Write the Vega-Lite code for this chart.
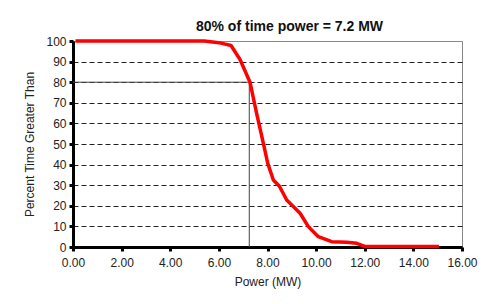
{
  "$schema": "https://vega.github.io/schema/vega-lite/v6.json",
  "width": 389,
  "height": 206,
  "autosize": {"type": "none"},
  "padding": {"left": 73, "top": 41, "right": 35, "bottom": 57},
  "background": "white",
  "title": {
    "text": "80% of time power = 7.2 MW",
    "fontSize": 14,
    "fontWeight": "bold",
    "font": "Liberation Sans",
    "color": "#111",
    "anchor": "middle",
    "dx": 22,
    "offset": 1
  },
  "config": {
    "view": {"stroke": "#888", "strokeWidth": 1},
    "font": "Liberation Sans"
  },
  "datasets": {
    "curve": [
      {"power": 0.1, "pct": 100},
      {"power": 5.4, "pct": 100},
      {"power": 6.0, "pct": 99.2},
      {"power": 6.5, "pct": 97.8},
      {"power": 6.87, "pct": 91},
      {"power": 7.28, "pct": 80},
      {"power": 7.55, "pct": 65},
      {"power": 7.83, "pct": 50.3},
      {"power": 8.01, "pct": 40.6},
      {"power": 8.24, "pct": 32.5},
      {"power": 8.49, "pct": 29.5},
      {"power": 8.79, "pct": 22.8},
      {"power": 9.34, "pct": 16.4},
      {"power": 9.68, "pct": 9.9},
      {"power": 10.09, "pct": 5},
      {"power": 10.64, "pct": 2.6},
      {"power": 11.26, "pct": 2.3},
      {"power": 11.67, "pct": 1.8},
      {"power": 12.0, "pct": 0.3},
      {"power": 15.05, "pct": 0.3}
    ],
    "marker": [
      {"power": 0, "power2": 7.25, "pct": 80, "pct2": 80},
      {"power": 7.25, "power2": 7.25, "pct": 0, "pct2": 80}
    ]
  },
  "encoding": {
    "x": {
      "field": "power",
      "type": "quantitative",
      "scale": {"domain": [0, 16], "nice": false},
      "axis": {
        "title": "Power (MW)",
        "values": [0, 2, 4, 6, 8, 10, 12, 14, 16],
        "format": ".2f",
        "grid": false,
        "labelOverlap": false,
        "labelFlush": false,
        "labelBound": false,
        "domainColor": "#000",
        "domainWidth": 3,
        "tickColor": "#000",
        "tickWidth": 3,
        "tickSize": 4,
        "labelFontSize": 12,
        "labelColor": "#222",
        "labelPadding": 6,
        "titleFontSize": 12,
        "titleFontWeight": "normal",
        "titleColor": "#222",
        "titlePadding": 8
      }
    },
    "y": {
      "field": "pct",
      "type": "quantitative",
      "scale": {"domain": [0, 100], "nice": false},
      "axis": {
        "title": "Percent Time Greater Than",
        "values": [0, 10, 20, 30, 40, 50, 60, 70, 80, 90, 100],
        "tickCount": 11,
        "grid": true,
        "labelOverlap": false,
        "labelFlush": false,
        "labelBound": false,
        "gridColor": "#222",
        "gridDash": [5, 3],
        "gridWidth": 1,
        "gridOpacity": {"condition": {"test": "datum.value == 0 || datum.value == 100", "value": 0}, "value": 1},
        "domainColor": "#000",
        "domainWidth": 3,
        "tickColor": "#000",
        "tickWidth": 3,
        "tickSize": 4,
        "labelFontSize": 12,
        "labelColor": "#222",
        "labelPadding": 3,
        "titleFontSize": 12,
        "titleFontWeight": "normal",
        "titleColor": "#222",
        "titlePadding": 9
      }
    }
  },
  "layer": [
    {
      "data": {"name": "marker"},
      "mark": {"type": "rule", "color": "#444", "strokeWidth": 1},
      "encoding": {
        "x2": {"field": "power2"},
        "y2": {"field": "pct2"}
      }
    },
    {
      "data": {"name": "curve"},
      "mark": {"type": "line", "color": "#ff0000", "strokeWidth": 3.5, "interpolate": "linear", "strokeJoin": "round"},
      "encoding": {}
    }
  ]
}
